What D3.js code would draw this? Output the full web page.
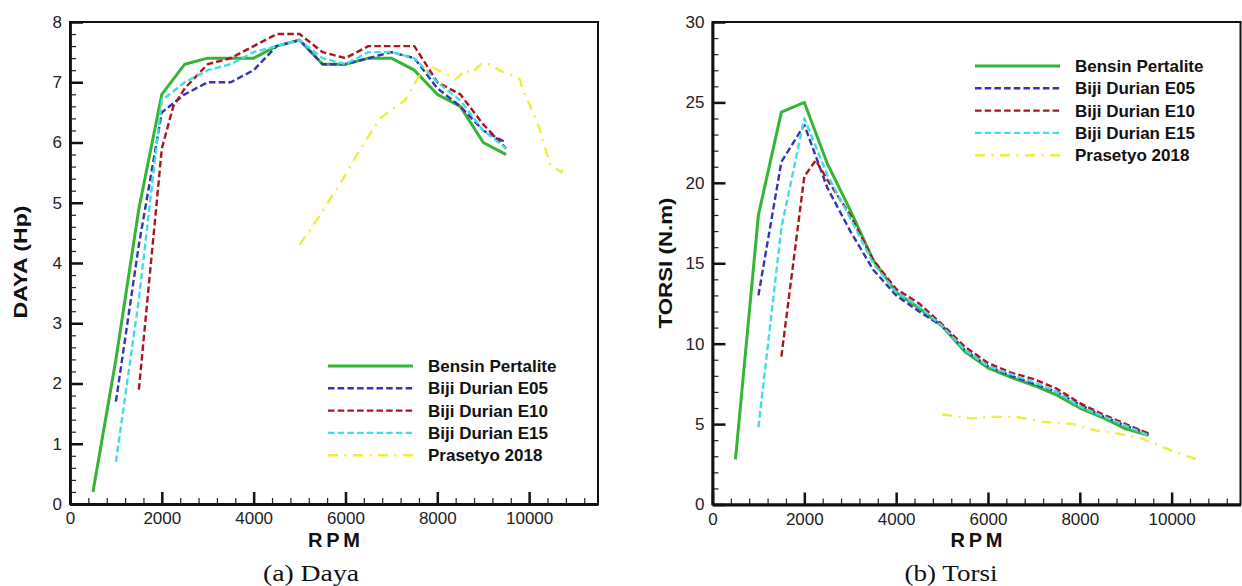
<!DOCTYPE html>
<html lang="id">
<head>
<meta charset="UTF-8">
<title>Daya dan Torsi</title>
<script src="https://d3js.org/d3.v7.min.js"></script>
<style>
    body { margin: 0; background: #fff; }
    svg { display: block; }
    .tick text { font-family: Arial, "Liberation Sans", sans-serif; font-size: 17px; fill: #222; }
    .axis-title { font-family: Arial, "Liberation Sans", sans-serif; font-weight: bold; fill: #111; }
    .legend text { font-family: Arial, "Liberation Sans", sans-serif; font-weight: bold; font-size: 17px; fill: #111; }
    .caption { font-family: "Times New Roman", "Liberation Serif", serif; font-size: 23px; fill: #111; }
</style>
</head>
<body>
<div id="chart"></div>
<script>
// series
const seriesNames = ["Bensin Pertalite", "Biji Durian E05", "Biji Durian E10", "Biji Durian E15", "Prasetyo 2018"];
const seriesColors = ["#35b535", "#3434b4", "#aa1520", "#40dde5", "#eeee3c"];
const seriesDash = [null, "6.5,3.2", "6.5,3.2", "6.5,3.2", "10,6.5,2,6.5"];
const seriesWidth = [3, 2.4, 2.4, 2.4, 2.4];

// (a) Daya (Hp)
const dayaPertaliteRpm = [500, 1000, 1500, 2000, 2500, 3000, 3500, 4000, 4500, 5000, 5500, 6000, 6500, 7000, 7500, 8000, 8500, 9000, 9500];
const dayaPertalite = [0.2, 2.4, 4.9, 6.8, 7.3, 7.4, 7.4, 7.4, 7.6, 7.7, 7.3, 7.3, 7.4, 7.4, 7.2, 6.8, 6.6, 6.0, 5.8];
const dayaE05Rpm = [1000, 1500, 2000, 2500, 3000, 3500, 4000, 4500, 5000, 5500, 6000, 6500, 7000, 7500, 8000, 8500, 9000, 9500];
const dayaE05 = [1.7, 4.3, 6.5, 6.8, 7.0, 7.0, 7.2, 7.6, 7.7, 7.3, 7.3, 7.4, 7.5, 7.4, 6.9, 6.6, 6.2, 6.0];
const dayaE10Rpm = [1500, 2000, 2250, 2500, 3000, 3500, 4000, 4500, 5000, 5500, 6000, 6500, 7000, 7500, 8000, 8500, 9000, 9500];
const dayaE10 = [1.9, 5.9, 6.6, 6.9, 7.3, 7.4, 7.6, 7.8, 7.8, 7.5, 7.4, 7.6, 7.6, 7.6, 7.0, 6.8, 6.3, 5.9];
const dayaE15Rpm = [1000, 1500, 2000, 2500, 3000, 3500, 4000, 4500, 5000, 5500, 6000, 6500, 7000, 7500, 8000, 8500, 9000, 9500];
const dayaE15 = [0.7, 3.4, 6.7, 7.0, 7.2, 7.3, 7.5, 7.6, 7.7, 7.4, 7.3, 7.5, 7.5, 7.4, 7.0, 6.7, 6.2, 5.9];
const dayaPrasetyoRpm = [5000, 5450, 5950, 6250, 6750, 7300, 7600, 7900, 8400, 8600, 8750, 8950, 9150, 9350, 9500, 9800, 9850, 10200, 10450, 10700, 10750];
const dayaPrasetyo = [4.3, 4.8, 5.4, 5.8, 6.4, 6.7, 7.1, 7.25, 7.05, 7.2, 7.15, 7.3, 7.3, 7.2, 7.15, 7.05, 6.9, 6.3, 5.65, 5.5, 5.6];

// (b) Torsi (N.m)
const torsiPertaliteRpm = [500, 1000, 1500, 2000, 2500, 3000, 3500, 4000, 4500, 5000, 5500, 6000, 6500, 7000, 7500, 8000, 8500, 9000, 9500];
const torsiPertalite = [2.8, 18.0, 24.4, 25.0, 21.2, 18.3, 15.2, 13.2, 12.2, 11.1, 9.5, 8.5, 7.9, 7.4, 6.8, 6.0, 5.4, 4.7, 4.3];
const torsiE05Rpm = [1000, 1500, 2000, 2500, 3000, 3500, 4000, 4500, 5000, 5500, 6000, 6500, 7000, 7500, 8000, 8500, 9000, 9500];
const torsiE05 = [13.0, 21.3, 23.6, 19.7, 17.0, 14.6, 13.0, 12.0, 11.1, 9.6, 8.6, 8.0, 7.5, 7.0, 6.2, 5.5, 4.9, 4.4];
const torsiE10Rpm = [1500, 2000, 2250, 2500, 3000, 3500, 4000, 4500, 5000, 5500, 6000, 6500, 7000, 7500, 8000, 8500, 9000, 9500];
const torsiE10 = [9.2, 20.4, 21.4, 20.2, 18.0, 15.2, 13.4, 12.5, 11.2, 9.8, 8.8, 8.2, 7.8, 7.2, 6.3, 5.6, 5.0, 4.4];
const torsiE15Rpm = [1000, 1500, 2000, 2500, 3000, 3500, 4000, 4500, 5000, 5500, 6000, 6500, 7000, 7500, 8000, 8500, 9000, 9500];
const torsiE15 = [4.8, 17.2, 24.0, 20.5, 17.8, 15.0, 13.2, 12.3, 11.1, 9.6, 8.6, 8.1, 7.6, 7.0, 6.1, 5.5, 4.9, 4.3];
const torsiPrasetyoRpm = [5000, 5650, 6100, 6600, 7200, 7850, 8350, 8850, 9350, 10000, 10650];
const torsiPrasetyo = [5.6, 5.35, 5.45, 5.45, 5.15, 5.0, 4.6, 4.4, 4.1, 3.35, 2.7];

const xTicks = [0, 2000, 4000, 6000, 8000, 10000];
const dayaTicks = [0, 1, 2, 3, 4, 5, 6, 7, 8];
const torsiTicks = [0, 5, 10, 15, 20, 25, 30];

const svg = d3.select("#chart").append("svg")
    .attr("width", 1242)
    .attr("height", 586);

function zip(xs, ys) {
    return xs.map((x, i) => ({ rpm: x, v: ys[i] }));
}

function drawPanel(p) {
    const x = d3.scaleLinear().domain([0, 11500]).range([p.left, p.right]);
    const y = d3.scaleLinear().domain([0, p.yMax]).range([p.bottom, p.top]);
    const g = svg.append("g");

    // frame
    g.append("rect")
        .attr("x", p.left).attr("y", p.top)
        .attr("width", p.right - p.left).attr("height", p.bottom - p.top)
        .attr("fill", "none").attr("stroke", "#111").attr("stroke-width", 2);

    // minor ticks
    g.append("g")
        .attr("transform", `translate(0,${p.bottom})`)
        .call(d3.axisBottom(x).tickValues(d3.range(0, 11500, 400)).tickSize(-6).tickSizeOuter(0).tickFormat(""))
        .call(a => a.select(".domain").remove())
        .selectAll("line").attr("stroke", "#222").attr("stroke-width", 1.2);
    g.append("g")
        .attr("transform", `translate(${p.left},0)`)
        .call(d3.axisLeft(y).tickValues(d3.range(0, p.yMax + 1e-6, p.yMinor)).tickSize(-6).tickSizeOuter(0).tickFormat(""))
        .call(a => a.select(".domain").remove())
        .selectAll("line").attr("stroke", "#222").attr("stroke-width", 1.2);

    // major axes
    const xa = g.append("g")
        .attr("transform", `translate(0,${p.bottom})`)
        .call(d3.axisBottom(x).tickValues(xTicks).tickSize(-12).tickSizeOuter(0).tickPadding(8).tickFormat(d3.format("d")));
    const ya = g.append("g")
        .attr("transform", `translate(${p.left},0)`)
        .call(d3.axisLeft(y).tickValues(p.yTicks).tickSize(-13).tickSizeOuter(0).tickPadding(8).tickFormat(d3.format("d")));
    [xa, ya].forEach(a => {
        a.select(".domain").attr("stroke", "#111").attr("stroke-width", 2.8);
        a.selectAll(".tick line").attr("stroke", "#111").attr("stroke-width", 2.5);
    });

    // lines
    const line = d3.line().x(d => x(d.rpm)).y(d => y(d.v));
    p.series.forEach((s, i) => {
        g.append("path")
            .datum(s)
            .attr("d", line)
            .attr("fill", "none")
            .attr("stroke", seriesColors[i])
            .attr("stroke-width", seriesWidth[i])
            .attr("stroke-dasharray", seriesDash[i])
            .attr("stroke-linejoin", "round");
    });

    // legend
    const lg = g.append("g").attr("class", "legend");
    seriesNames.forEach((name, i) => {
        const ly = p.legendY + i * 22.3;
        lg.append("line")
            .attr("x1", p.legendX).attr("x2", p.legendX + 85)
            .attr("y1", ly).attr("y2", ly)
            .attr("stroke", seriesColors[i])
            .attr("stroke-width", seriesWidth[i])
            .attr("stroke-dasharray", seriesDash[i]);
        lg.append("text")
            .attr("x", p.legendX + 100).attr("y", ly + 6)
            .text(name);
    });

    // axis titles
    g.append("text")
        .attr("class", "axis-title")
        .attr("x", (p.left + p.right) / 2).attr("y", 547)
        .attr("text-anchor", "middle")
        .attr("font-size", 20)
        .attr("textLength", 52)
        .attr("lengthAdjust", "spacing")
        .text("RPM");
    g.append("text")
        .attr("class", "axis-title")
        .attr("transform", `translate(${p.yTitleX},${p.yTitleY}) rotate(-90)`)
        .attr("text-anchor", "middle")
        .attr("font-size", 19)
        .attr("textLength", p.yTitleLen)
        .attr("lengthAdjust", "spacingAndGlyphs")
        .text(p.yTitle);

    // caption
    g.append("text")
        .attr("class", "caption")
        .attr("x", p.captionX).attr("y", 581)
        .attr("text-anchor", "middle")
        .attr("textLength", p.captionLen)
        .attr("lengthAdjust", "spacingAndGlyphs")
        .text(p.caption);
}

drawPanel({
    left: 70, right: 598, top: 22, bottom: 504,
    yMax: 8, yMinor: 0.2, yTicks: dayaTicks,
    series: [
        zip(dayaPertaliteRpm, dayaPertalite),
        zip(dayaE05Rpm, dayaE05),
        zip(dayaE10Rpm, dayaE10),
        zip(dayaE15Rpm, dayaE15),
        zip(dayaPrasetyoRpm, dayaPrasetyo)
    ],
    legendX: 328, legendY: 366,
    yTitle: "DAYA (Hp)", yTitleX: 27, yTitleY: 262, yTitleLen: 113,
    caption: "(a) Daya", captionX: 311, captionLen: 96
});

drawPanel({
    left: 712.5, right: 1240.5, top: 22, bottom: 504.5,
    yMax: 30, yMinor: 1, yTicks: torsiTicks,
    series: [
        zip(torsiPertaliteRpm, torsiPertalite),
        zip(torsiE05Rpm, torsiE05),
        zip(torsiE10Rpm, torsiE10),
        zip(torsiE15Rpm, torsiE15),
        zip(torsiPrasetyoRpm, torsiPrasetyo)
    ],
    legendX: 975, legendY: 66,
    yTitle: "TORSI (N.m)", yTitleX: 672, yTitleY: 263, yTitleLen: 131,
    caption: "(b) Torsi", captionX: 951, captionLen: 93
});
</script>
</body>
</html>
